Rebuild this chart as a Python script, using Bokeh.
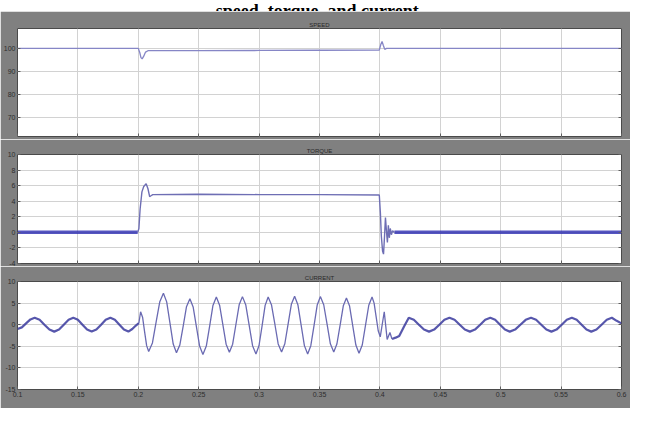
from bokeh.plotting import figure
from bokeh.layouts import column
from bokeh.models import FixedTicker, LinearAxis
from bokeh.core.properties import value
from bokeh.embed import file_html
from bokeh.resources import INLINE

# ---------------- data ----------------
page_title = "speed, torque, and current."
panel_titles = ["SPEED", "TORQUE", "CURRENT"]

x_ticks = [0.1, 0.15, 0.2, 0.25, 0.3, 0.35, 0.4, 0.45, 0.5, 0.55, 0.6]
x_tick_labels = ["0.1", "0.15", "0.2", "0.25", "0.3", "0.35", "0.4", "0.45", "0.5", "0.55", "0.6"]

speed_ticks = [70, 80, 90, 100]
torque_ticks = [-4, -2, 0, 2, 4, 6, 8, 10]
current_ticks = [-15, -10, -5, 0, 5, 10]

speed = [(0.1, 100), (0.2, 100), (0.2012, 98.2), (0.2022, 96.0), (0.2032, 95.4),
         (0.2045, 96.6), (0.206, 98.4), (0.208, 99.0), (0.25, 99.0), (0.3, 99.1),
         (0.35, 99.2), (0.3995, 99.3), (0.4008, 101.8), (0.4018, 103.0),
         (0.4028, 101.4), (0.404, 99.6), (0.4055, 100.0), (0.6, 100)]

torque_idle_pre = [(0.1, 0.0), (0.1995, 0.0)]
torque_load = [(0.1995, 0.0), (0.2005, 0.5), (0.2015, 3.0), (0.2030, 5.2), (0.2045, 5.9),
               (0.2065, 6.25), (0.2080, 5.6), (0.2094, 4.6), (0.2105, 4.7), (0.2120, 4.85),
               (0.25, 4.9), (0.3, 4.85), (0.35, 4.85), (0.3995, 4.8),
               (0.4004, 2.5), (0.4012, -0.5), (0.4022, -2.4), (0.4030, -2.8), (0.4038, -0.6),
               (0.4046, 1.9), (0.4054, 0.2), (0.4062, -1.3), (0.4070, 0.9), (0.4078, -0.7),
               (0.4086, 0.5), (0.4095, -0.3), (0.4105, 0.2), (0.4120, 0.0)]
torque_idle_post = [(0.4120, 0.0), (0.6, 0.0)]

current_pre = [(0.1, -1.0), (0.1036, -0.62), (0.1071, 0.3), (0.1107, 1.22), (0.1142, 1.6),
               (0.1183, 1.13), (0.1223, 0.0), (0.1264, -1.13), (0.1304, -1.6),
               (0.1344, -1.13), (0.1383, 0.0), (0.1423, 1.13), (0.1462, 1.6),
               (0.1500, 1.13), (0.1538, 0.0), (0.1576, -1.13), (0.1614, -1.6),
               (0.1653, -1.13), (0.1692, 0.0), (0.1730, 1.13), (0.1769, 1.6),
               (0.1806, 1.13), (0.1844, 0.0), (0.1881, -1.13), (0.1918, -1.6),
               (0.1950, -1.0), (0.1980, -0.2), (0.2005, 0.4)]
current_load = [(0.2005, 0.4), (0.2019, 3.0), (0.2036, 1.65), (0.2052, -1.6), (0.2069, -4.85),
                (0.2086, -6.2), (0.2117, -4.22), (0.2147, 0.55), (0.2178, 5.32), (0.2208, 7.3),
                (0.2235, 5.28), (0.2262, 0.4), (0.2289, -4.48), (0.2316, -6.5), (0.2344, -4.67),
                (0.2372, -0.25), (0.2399, 4.17), (0.2427, 6.0), (0.2454, 4.11), (0.2481, -0.45),
                (0.2508, -5.01), (0.2535, -6.9), (0.2563, -4.95), (0.2591, -0.25), (0.2618, 4.45),
                (0.2646, 6.4), (0.2673, 4.52), (0.2700, 0.0), (0.2727, -4.52), (0.2754, -6.4),
                (0.2781, -4.51), (0.2808, 0.05), (0.2835, 4.61), (0.2862, 6.5), (0.2890, 4.55),
                (0.2918, -0.15), (0.2946, -4.85), (0.2974, -6.8), (0.2999, -4.87), (0.3025, -0.2),
                (0.3050, 4.47), (0.3075, 6.4), (0.3103, 4.54), (0.3131, 0.05), (0.3158, -4.44),
                (0.3186, -6.3), (0.3213, -4.41), (0.3240, 0.15), (0.3267, 4.71), (0.3294, 6.6),
                (0.3321, 4.64), (0.3348, -0.1), (0.3375, -4.84), (0.3402, -6.8), (0.3428, -4.85),
                (0.3455, -0.15), (0.3481, 4.55), (0.3507, 6.5), (0.3535, 4.62), (0.3563, 0.1),
                (0.3590, -4.42), (0.3618, -6.3), (0.3644, -4.47), (0.3671, -0.05), (0.3697, 4.37),
                (0.3723, 6.2), (0.3749, 4.32), (0.3775, -0.2), (0.3801, -4.72), (0.3827, -6.6),
                (0.3854, -4.7), (0.3881, -0.1), (0.3908, 4.5), (0.3935, 6.4), (0.3952, 5.0),
                (0.3969, 1.8), (0.3986, -1.4), (0.4003, -2.8), (0.4036, 3.0), (0.4060, -3.4),
                (0.4083, -1.8), (0.4100, -3.3)]
current_post = [(0.4100, -3.3), (0.4130, -3.0), (0.4160, -2.6), (0.4200, -0.4), (0.4239, 1.6),
                (0.4281, 1.13), (0.4323, 0.0), (0.4365, -1.13), (0.4407, -1.6),
                (0.4449, -1.13), (0.4492, 0.0), (0.4534, 1.13), (0.4576, 1.6),
                (0.4618, 1.13), (0.4661, 0.0), (0.4703, -1.13), (0.4745, -1.6),
                (0.4787, -1.13), (0.4830, 0.0), (0.4872, 1.13), (0.4914, 1.6),
                (0.4954, 1.13), (0.4995, 0.0), (0.5035, -1.13), (0.5075, -1.6),
                (0.5119, -1.13), (0.5163, 0.0), (0.5207, 1.13), (0.5251, 1.6),
                (0.5293, 1.13), (0.5336, 0.0), (0.5378, -1.13), (0.5420, -1.6),
                (0.5462, -1.13), (0.5505, 0.0), (0.5547, 1.13), (0.5589, 1.6),
                (0.5629, 1.13), (0.5670, 0.0), (0.5710, -1.13), (0.5750, -1.6),
                (0.5793, -1.13), (0.5835, 0.0), (0.5878, 1.13), (0.5920, 1.6),
                (0.5960, 0.9), (0.6, 0.3)]

# ---------------- styling ----------------
GRAY = "#808080"
W = 630


def xs(pts):
    return [p[0] for p in pts]


def ys(pts):
    return [p[1] for p in pts]


def style_axis(ax):
    ax.major_tick_in = 3
    ax.major_tick_out = 0
    ax.minor_tick_line_color = None
    ax.axis_line_color = None
    ax.major_tick_line_color = "#606060"
    ax.major_label_text_font_size = "7px"
    ax.major_label_text_color = "#2e2e2e"
    ax.major_label_standoff = 2


def panel(title, y_range, yticks, height, top, bottom, show_xlabels):
    p = figure(width=W, height=height, x_range=(0.1, 0.6), y_range=y_range,
               output_backend="svg", toolbar_location=None, title=title,
               min_border_left=14, min_border_right=9, min_border_top=top,
               min_border_bottom=bottom, background_fill_color="white",
               border_fill_color=GRAY, outline_line_color="#4a4a4a")
    p.title.align = "center"
    p.title.text_font_size = "6px"
    p.title.text_font_style = "normal"
    p.title.text_color = "#2a2a2a"
    p.title.standoff = 2
    p.xaxis.ticker = FixedTicker(ticks=x_ticks)
    p.xgrid.ticker = FixedTicker(ticks=x_ticks)
    p.yaxis.ticker = FixedTicker(ticks=yticks)
    p.ygrid.ticker = FixedTicker(ticks=yticks)
    style_axis(p.xaxis[0])
    style_axis(p.yaxis[0])
    p.yaxis.major_label_overrides = {t: str(t) for t in yticks}
    if show_xlabels:
        p.xaxis.major_label_overrides = {t: l for t, l in zip(x_ticks, x_tick_labels)}
    else:
        p.xaxis.major_label_overrides = {t: "" for t in x_ticks}
        p.xaxis.major_label_standoff = 0
    ra = LinearAxis(ticker=FixedTicker(ticks=yticks))
    style_axis(ra)
    ra.major_label_overrides = {t: "" for t in yticks}
    ra.major_label_standoff = 0
    p.add_layout(ra, "right")
    for g in (p.xgrid, p.ygrid):
        g.grid_line_color = "#d2d2d2"
        g.grid_line_width = 1
    return p


# title strip (the reference shows only the lower part of this text)
strip = figure(width=W, height=11, x_range=(0, 1), y_range=(0, 11), output_backend="svg",
               toolbar_location=None, min_border=0, outline_line_color=None,
               background_fill_color="white", border_fill_color="white")
strip.axis.visible = False
strip.grid.visible = False
strip.text(x=[0.5], y=[2], text=[page_title], text_font=value("Liberation Serif"),
           text_font_style="bold", text_font_size="18px", text_align="center",
           text_baseline="alphabetic", text_color="black")

# speed panel
p1 = panel(panel_titles[0], (61.5, 108.7), speed_ticks, 128, 17, 3, False)
p1.line(xs(speed), ys(speed), line_color="#8686c6", line_width=1.3)

# torque panel
p2 = panel(panel_titles[1], (-4, 10), torque_ticks, 127, 15, 3, False)
p2.line(xs(torque_idle_pre), ys(torque_idle_pre), line_color="#2b2bb0", line_width=3.5, line_alpha=0.8)
p2.line(xs(torque_idle_post), ys(torque_idle_post), line_color="#2b2bb0", line_width=3.5, line_alpha=0.8)
p2.line(xs(torque_load), ys(torque_load), line_color="#6e6eb4", line_width=1.4)

# current panel
p3 = panel(panel_titles[2], (-15, 10), current_ticks, 142, 15, 19, True)
p3.line(xs(current_pre), ys(current_pre), line_color="#3a3a9e", line_width=2.2, line_alpha=0.85)
p3.line(xs(current_post), ys(current_post), line_color="#3a3a9e", line_width=2.2, line_alpha=0.85)
p3.line(xs(current_load), ys(current_load), line_color="#6a6ab2", line_width=1.3)

layout = column(strip, p1, p2, p3, spacing=0)
open("out.html", "w").write(file_html(layout, INLINE))
